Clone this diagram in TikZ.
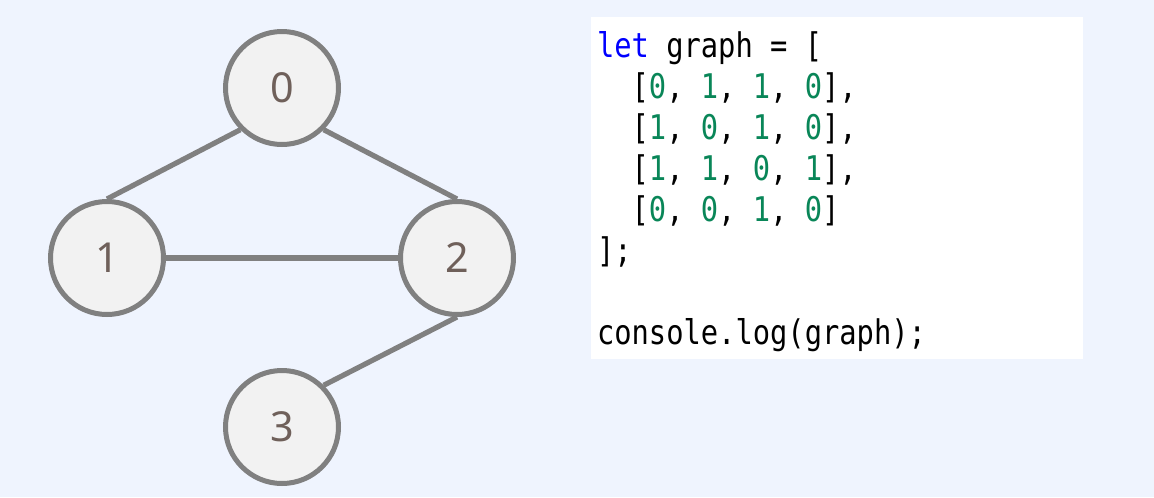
\documentclass[tikz,border=0pt]{standalone}
\usepackage{fontspec}
\setmainfont{Noto Sans}
\newfontfamily\codefont[FakeStretch=0.846]{DejaVu Sans Mono}
\definecolor{bgc}{HTML}{EFF4FE}
\definecolor{nodefill}{HTML}{F2F2F2}
\definecolor{nodeline}{HTML}{808080}
\definecolor{numtxt}{HTML}{6F605A}
\definecolor{kw}{HTML}{0000FF}
\definecolor{numc}{HTML}{098658}
\tikzset{
  vertex/.style={circle, draw=nodeline, fill=nodefill, line width=3.75pt,
    minimum size=84.75pt, inner sep=0pt, text=numtxt,
    font=\fontsize{31pt}{36pt}\selectfont},
  edge/.style={draw=nodeline, line width=3.9pt},
  codeline/.style={anchor=base west, inner sep=0pt, outer sep=0pt,
    font=\codefont\fontsize{25.5pt}{30.75pt}\selectfont}
}
\newcommand{\nm}[1]{\textcolor{numc}{#1}}
\begin{document}
\begin{tikzpicture}[x=0.75pt,y=-0.75pt]
\fill[bgc] (0,0) rectangle (1154,497);
\useasboundingbox (0,0) rectangle (1154,497);
\fill[white] (591,17) rectangle (1083,359);
\node[vertex] (n0) at (282,88) {0};
\node[vertex] (n1) at (107,258) {1};
\node[vertex] (n2) at (457,258) {2};
\node[vertex] (n3) at (282,427) {3};
\draw[edge] (n0.south west) -- (n1.north);
\draw[edge] (n0.south east) -- (n2.north);
\draw[edge] (n1.east) -- (n2.west);
\draw[edge] (n2.south) -- (n3.north east);
\node[codeline] (c1) at (597,57) {\textcolor{kw}{let} graph = [};
\node[codeline] (c2) at (597,98) {\ \ [\nm{0}, \nm{1}, \nm{1}, \nm{0}],};
\node[codeline] (c3) at (597,139) {\ \ [\nm{1}, \nm{0}, \nm{1}, \nm{0}],};
\node[codeline] (c4) at (597,180) {\ \ [\nm{1}, \nm{1}, \nm{0}, \nm{1}],};
\node[codeline] (c5) at (597,221) {\ \ [\nm{0}, \nm{0}, \nm{1}, \nm{0}]};
\node[codeline] (c6) at (597,262) {];};
\node[codeline] (c8) at (597,344) {console.log(graph);};
\end{tikzpicture}
\end{document}
